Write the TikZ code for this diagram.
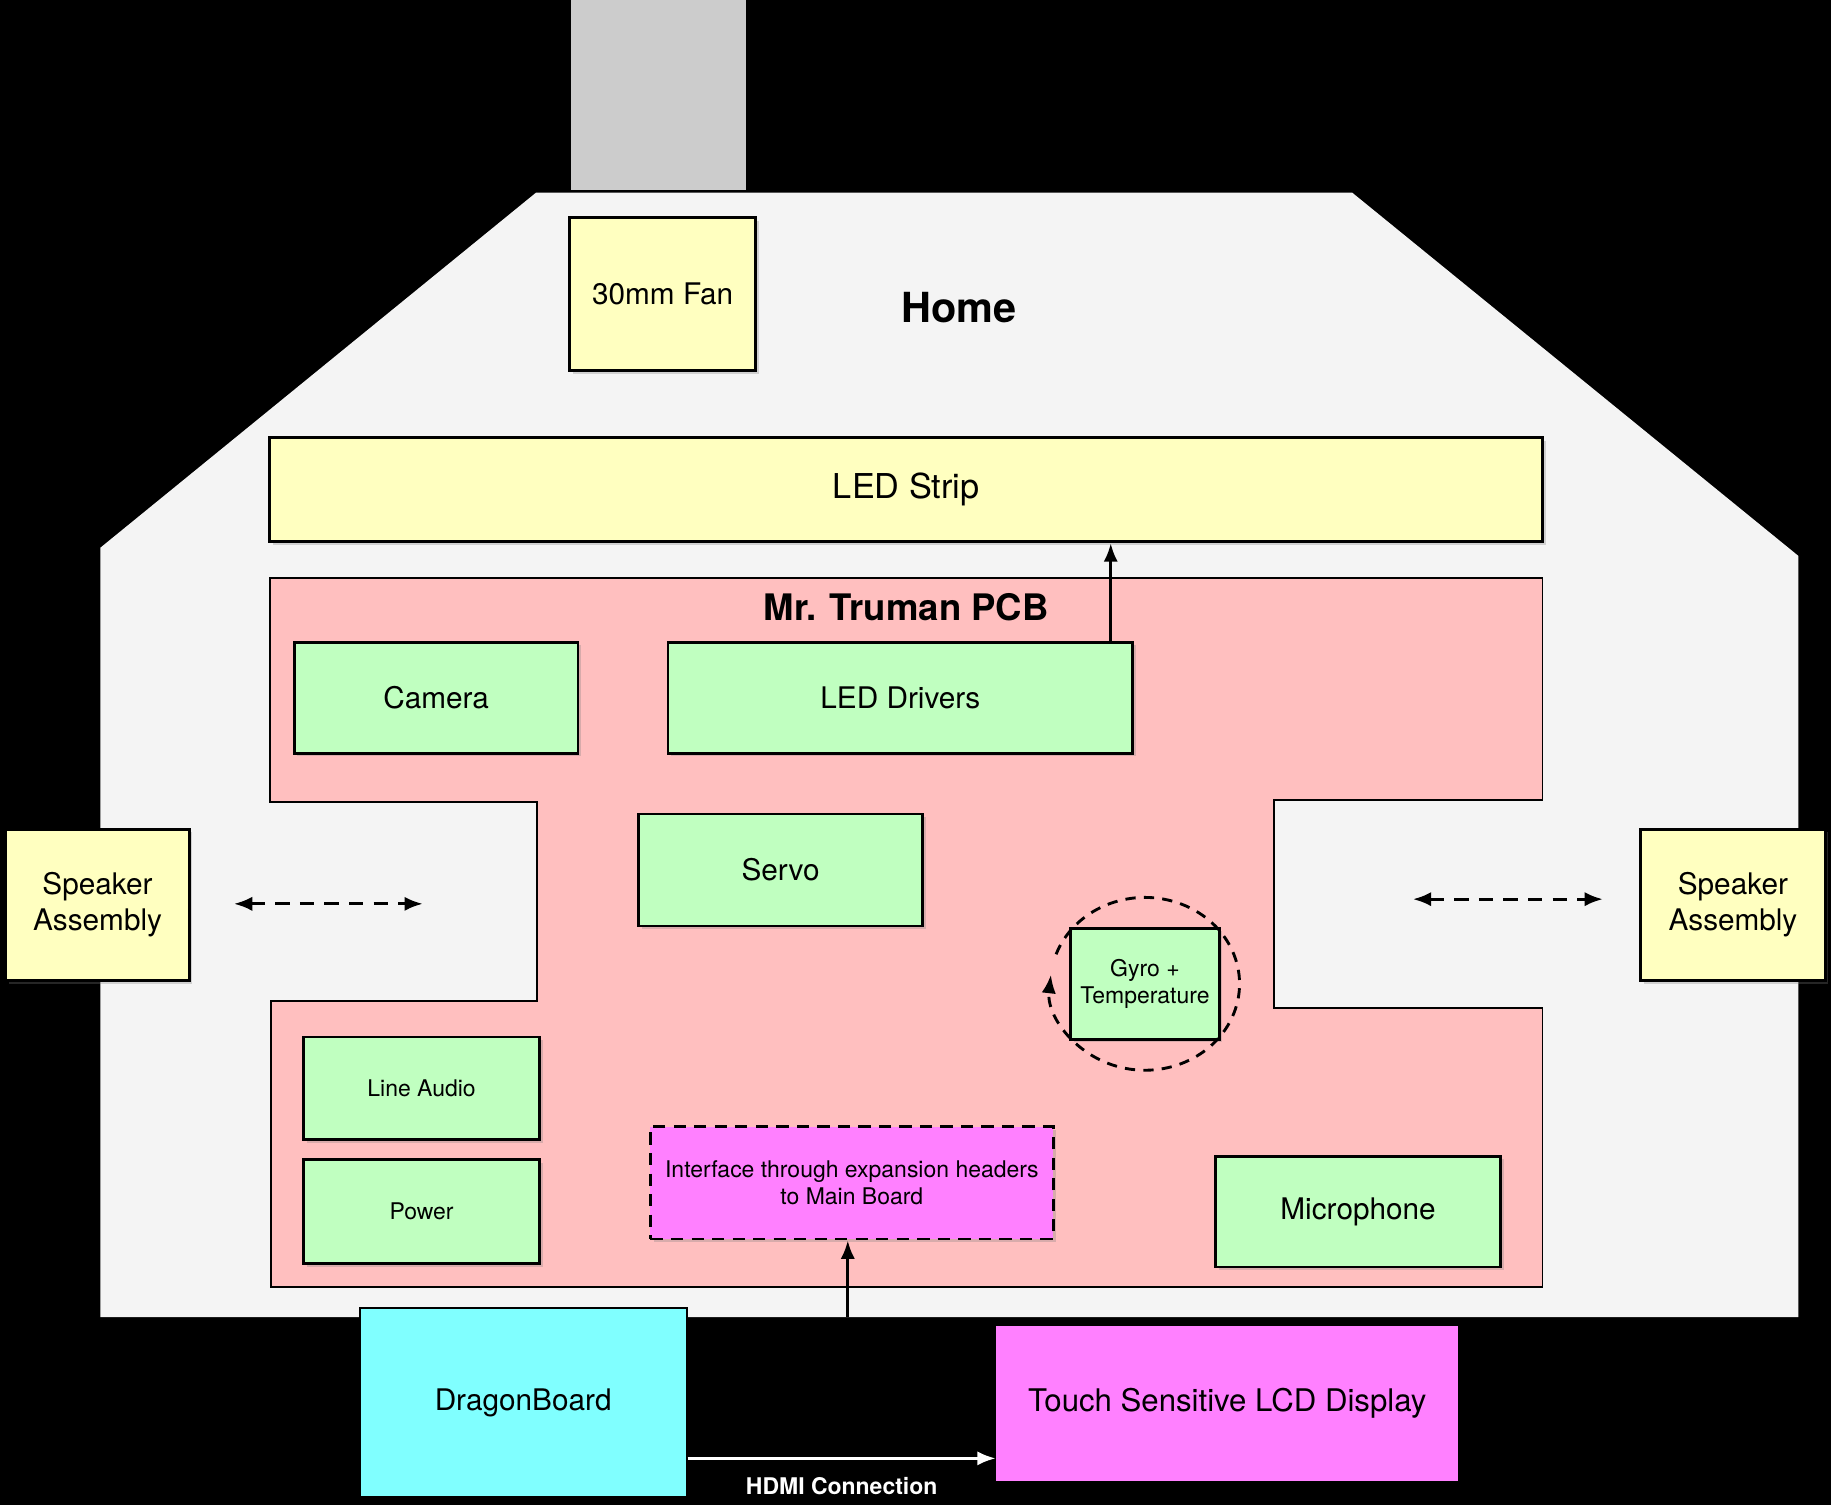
\documentclass[tikz,border=0pt]{standalone}
\usepackage{fontspec}
\setmainfont{TeX Gyre Heros}
\usepackage{tikz}
\usetikzlibrary{positioning,calc,shadows,arrows.meta}
\definecolor{pale}{HTML}{F4F4F4}
\definecolor{chimney}{HTML}{CCCCCC}
\definecolor{ylw}{HTML}{FFFFC0}
\definecolor{grn}{HTML}{C0FFC0}
\definecolor{pcb}{HTML}{FFBFBF}
\definecolor{mag}{HTML}{FF80FF}
\definecolor{cyn}{HTML}{80FFFF}
\newcommand{\bigfs}{\fontsize{16.7}{20}\selectfont}
\newcommand{\midfs}{\fontsize{14.5}{17.6}\selectfont}
\newcommand{\smallfs}{\fontsize{11.2}{13.4}\selectfont}

\begin{document}
\begin{tikzpicture}[x=0.02cm, y=-0.02cm, font=\midfs,
	box/.style={draw, line width=1.4pt, align=center, inner sep=2pt, drop shadow={shadow xshift=1.5pt, shadow yshift=-1.5pt, opacity=0.3}},
	ybox/.style={box, fill=ylw},
	gbox/.style={box, fill=grn},
	tip/.style={-{Latex[length=9pt,width=7pt]}},
	arr/.style={line width=1.5pt, tip},
	darr/.style={line width=1.6pt, {Latex[length=9pt,width=7pt]}-{Latex[length=9pt,width=7pt]}, dash pattern=on 7pt off 5pt}]
	%house
	\useasboundingbox (0,0) rectangle (1568,1289);
	\fill[black] (0,0) rectangle (1568,1289);
	\fill[chimney] (489,0) rectangle (639,163);
	\fill[pale] (459,165) -- (1158,165) -- (1540,476) -- (1540,1128) -- (86,1128) -- (86,469) -- cycle;
	\coordinate(base) at (0,1128);
	\node(home)[font=\fontsize{20.2}{24}\selectfont\bfseries] at (821,263) {Home};
	\node(fan)[ybox, minimum width=3.18cm, minimum height=2.62cm] at (567.5,252) {30mm Fan};
	\node(strip)[ybox, font=\bigfs, minimum width=21.8cm, minimum height=1.78cm] at (776,419.5) {LED Strip};

	%pcb
	\filldraw[fill=pcb, draw=black, line width=0.8pt] (231,495) -- (1321,495) -- (1321,685) -- (1091,685) -- (1091,863) -- (1321,863) -- (1321,1102) -- (232,1102) -- (232,857) -- (460,857) -- (460,687) -- (231,687) -- cycle;
	\node(title)[font=\fontsize{17.8}{21}\selectfont\bfseries] at (776,520) {Mr. Truman PCB};
	\node(cam)[gbox, minimum width=4.86cm, minimum height=1.9cm] at (373.5,597.5) {Camera};
	\node(drv)[gbox, minimum width=7.96cm, minimum height=1.9cm] at (771,597.5) {LED Drivers};
	\node(servo)[gbox, minimum width=4.86cm, minimum height=1.92cm] at (668.5,745) {Servo};
	\node(gyro)[gbox, font=\smallfs, minimum width=2.54cm, minimum height=1.9cm] at (980.5,842.5) {Gyro +\\Temperature};
	\node(audio)[gbox, font=\smallfs, minimum width=4.04cm, minimum height=1.76cm] at (361,932) {Line Audio};
	\node(power)[gbox, font=\smallfs, minimum width=4.04cm, minimum height=1.78cm] at (361,1037.5) {Power};
	\node(iface)[box, fill=mag, font=\smallfs, dash pattern=on 6pt off 4pt, minimum width=6.9cm, minimum height=1.92cm] at (729.5,1013) {Interface through expansion headers\\to Main Board};
	\node(mic)[gbox, minimum width=4.88cm, minimum height=1.9cm] at (1163,1037.5) {Microphone};

	%speakers
	\node(spkl)[ybox, minimum width=3.14cm, minimum height=2.6cm] at (83.5,775) {Speaker\\Assembly};
	\node(spkr)[ybox, minimum width=3.16cm, minimum height=2.6cm] at (1484,775) {Speaker\\Assembly};
	\coordinate(l1) at ($(spkl.east)+(37,-1)$);
	\coordinate(l2) at ($(l1)+(162,0)$);
	\coordinate(r2) at ($(spkr.west)+(-31,-5)$);
	\coordinate(r1) at ($(r2)+(-163,0)$);
	\draw[darr] (l1) -- (l2);
	\draw[darr] (r1) -- (r2);

	%outside
	\node(dragon)[draw, line width=1pt, fill=cyn, minimum width=5.6cm, minimum height=3.24cm] at (448,1201) {DragonBoard};
	\node(lcd)[fill=mag, font=\fontsize{15.2}{18}\selectfont, minimum width=7.92cm, minimum height=2.66cm] at (1051,1202) {Touch Sensitive LCD Display};

	%links
	\draw[arr] (drv.north east) ++(-20,0) coordinate(d1) -- (d1 |- strip.south);
	\draw[arr] ([xshift=-3.5*0.02cm]iface.south |- base) -- ([xshift=-3.5*0.02cm]iface.south);
	\coordinate(hd) at ($(dragon.south east)+(0,-34)$);
	\draw[arr, white] (hd) -- (hd -| lcd.west) node[midway, below=5pt, text=white, font=\smallfs\bfseries] {HDMI Connection};
	\draw[line width=1.4pt, dash pattern=on 5pt off 4pt, tip] (gyro.center) ++(160:1.62cm and 1.48cm) arc[start angle=160, end angle=-186, x radius=1.62cm, y radius=1.48cm];
\end{tikzpicture}
\end{document}
